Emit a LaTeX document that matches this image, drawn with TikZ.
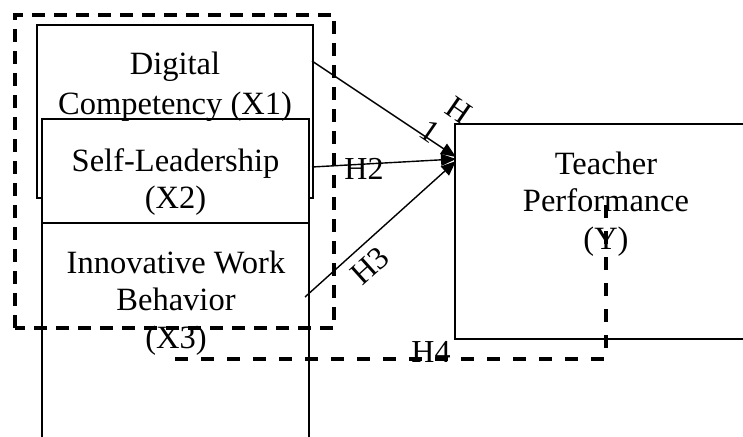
\documentclass[tikz,border=0pt]{standalone}
\usepackage{fontspec}
\setmainfont{Liberation Serif}
\usetikzlibrary{arrows.meta}
\begin{document}
\begin{tikzpicture}[x=1pt,y=-1pt,
  boxline/.style={line width=1.4pt},
  dashline/.style={line width=3.6pt,dash pattern=on 13pt off 9pt},
  dashlinetwo/.style={line width=3.6pt,dash pattern=on 13pt off 13pt},
  arr/.style={line width=1.4pt,-{Triangle[length=15pt,width=12pt]}},
  lbl/.style={inner sep=0pt,align=center,font=\fontsize{32.5}{37.5}\selectfont},
  hl/.style={inner sep=0pt,font=\fontsize{32}{37}\selectfont}]
\clip (0,0) rectangle (743,436);
% boxes
\draw[boxline] (37,25) rectangle (313,198);
\draw[boxline,fill=white] (42,119) rectangle (309,223);
\draw[boxline] (42,223) rectangle (309,450);
\draw[boxline] (455,124) rectangle (770,339);
% box texts
\node[lbl,font=\fontsize{32.5}{40}\selectfont] (x1) at (175,87) {Digital\\Competency (X1)};
\node[lbl] (x2) at (175.5,182) {Self-Leadership\\(X2)};
\node[lbl] (x3) at (176,303) {Innovative Work\\Behavior\\(X3)};
\node[lbl] (y) at (606,204) {Teacher\\Performance\\(Y)};
% connector anchors
\coordinate (s1) at (312,61);
\coordinate (s2) at (312,167);
\coordinate (s3) at (305,297);
\coordinate (t1) at (456,157);
\coordinate (t2) at (456,159);
\coordinate (t3) at (456,161);
\draw[arr] (s1) -- (t1);
\draw[arr] (s2) -- (t2);
\draw[arr] (s3) -- (t3);
% hypothesis labels
\node[hl,rotate=-34.5] (h1a) at (459,110) {H};
\node[hl,rotate=-34.5] (h1b) at (430,131) {1};
\node[hl] (h2) at (364,169) {H2};
\node[hl,rotate=42] (h3) at (370,266) {H3};
\node[hl] (h4) at (431,352) {H4};
% dashed groupings
\draw[dashline] (15,328) -- (15,15) -- (334,15) -- (334,328) -- cycle;
\coordinate (d1) at (606,197);
\coordinate (d2) at (606,359);
\coordinate (d3) at (175,359);
\draw[dashlinetwo] (d3) -- (d2) -- (d1);
\end{tikzpicture}
\end{document}
